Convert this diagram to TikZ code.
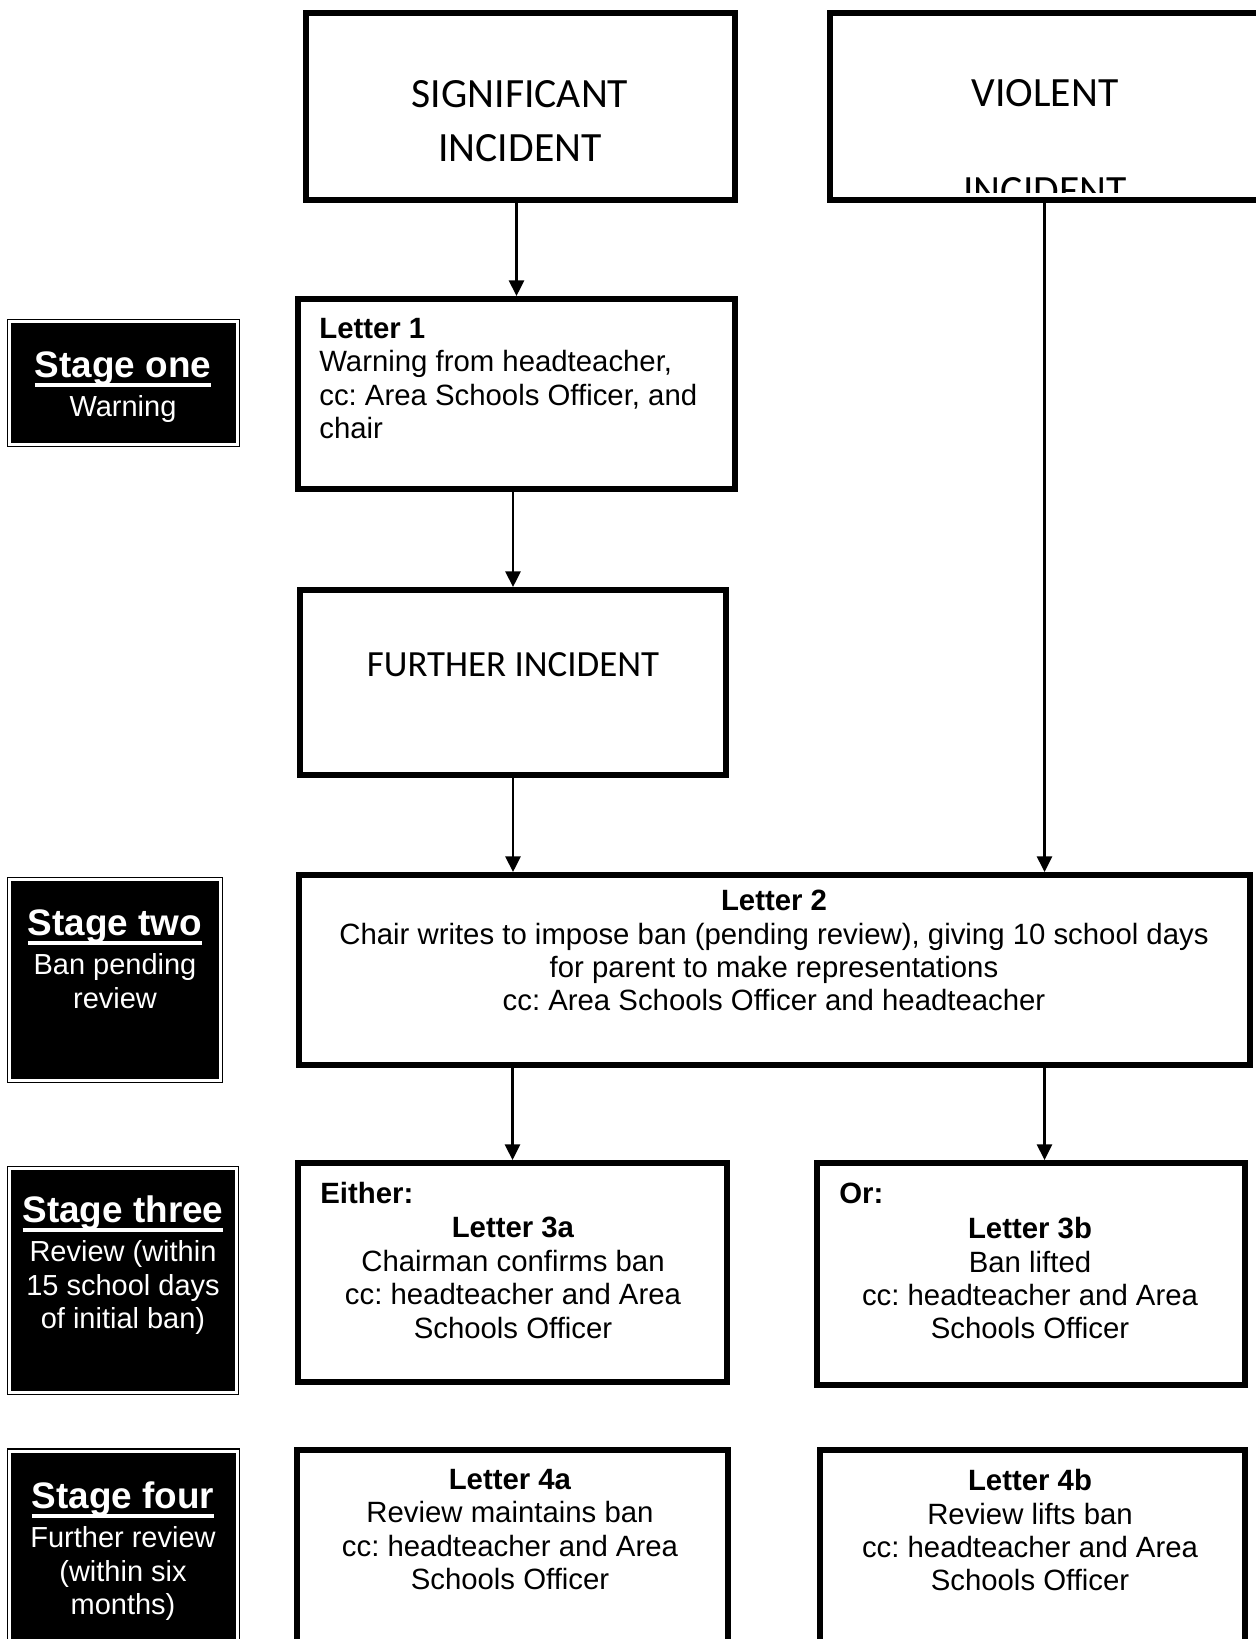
\documentclass[tikz,border=0pt]{standalone}
\usepackage{fontspec}
\setmainfont{Liberation Sans}
\newfontfamily\calib{Carlito}
\usetikzlibrary{arrows.meta}
\frenchspacing

\newcommand{\stagehead}[1]{{\fontsize{21}{24}\selectfont\bfseries\setbox0\hbox{#1}\rlap{\rule[-5.4pt]{\wd0}{1.8pt}}\box0}}

\begin{document}
\begin{tikzpicture}[x=0.02cm,y=-0.02cm]

\tikzset{box/.style={draw,line width=3.3pt,inner sep=0pt}}
\tikzset{stage/.style={draw,fill=black,double=white,double distance=1.7pt,line width=0.7pt,inner sep=0pt}}
\tikzset{txt/.style={inner sep=0pt,font=\fontsize{16.7}{19}\selectfont}}
\tikzset{ctxt/.style={txt,align=center}}
\tikzset{ltxt/.style={txt,align=left}}
\tikzset{stxt/.style={inner sep=0pt,align=center,text=white,font=\fontsize{16.5}{19}\selectfont}}
\tikzset{big/.style={inner sep=0pt,align=center,font=\calib\fontsize{23.7}{30.7}\selectfont}}
\tikzset{toBox/.style={->,>={Triangle[length=9pt,width=8.5pt]},line width=1.6pt}}

\useasboundingbox (0,0) rectangle (1256,1639);
\clip (0,0) rectangle (1256,1639);

% incidents
\node[box,minimum width=8.58cm,minimum height=3.74cm] (sig) at (520.5,106.5) {};
\node[big] (sigt) at (520,121) {SIGNIFICANT\\INCIDENT};
\node[box,minimum width=8.58cm,minimum height=3.74cm] (vio) at (1044.5,106.5) {};
\node[big,anchor=base] (viot) at (1045,107) {VIOLENT};
\begin{scope}
\clip (833,13) rectangle (1256,192);
\node[big,anchor=base] (viob) at (1045,204) {INCIDENT};
\end{scope}

\node[box,minimum width=8.74cm,minimum height=3.8cm] (l1) at (516.5,394) {};
\node[ltxt,anchor=north west] (l1t) at (319,318) {\textbf{Letter 1}\\Warning from headteacher,\\cc: Area Schools Officer, and\\chair};

\node[box,minimum width=8.52cm,minimum height=3.7cm] (fur) at (513,682.5) {};
\node[big,font=\calib\fontsize{21}{26}\selectfont] (furt) at (513,665) {FURTHER INCIDENT};

% letters
\node[box,minimum width=19.02cm,minimum height=3.8cm] (l2) at (774.5,970) {};
\node[ctxt,anchor=north] (l2t) at (774,890) {\textbf{Letter 2}\\Chair writes to impose ban (pending review), giving 10 school days\\for parent to make representations\\cc: Area Schools Officer and headteacher};

\node[box,minimum width=8.58cm,minimum height=4.38cm] (l3a) at (512.5,1272.5) {};
\node[txt,anchor=base west] (eith) at (320,1203) {\textbf{Either:}};
\node[ctxt,anchor=north] (l3at) at (513,1217) {\textbf{Letter 3a}\\Chairman confirms ban\\cc: headteacher and Area\\Schools Officer};

\node[box,minimum width=8.56cm,minimum height=4.44cm] (l3b) at (1031,1274) {};
\node[txt,anchor=base west] (orr) at (839,1203) {\textbf{Or:}};
\node[ctxt,anchor=north] (l3bt) at (1030,1217) {\textbf{Letter 3b}\\Ban lifted\\cc: headteacher and Area\\Schools Officer};

\node[box,minimum width=8.62cm,minimum height=5cm] (l4a) at (512.5,1575) {};
\node[ctxt,anchor=north] (l4at) at (510,1469) {\textbf{Letter 4a}\\Review maintains ban\\cc: headteacher and Area\\Schools Officer};

\node[box,minimum width=8.5cm,minimum height=5cm] (l4b) at (1032.5,1575) {};
\node[ctxt,anchor=north] (l4bt) at (1030,1469) {\textbf{Letter 4b}\\Review lifts ban\\cc: headteacher and Area\\Schools Officer};

% stages
\node[stage,minimum width=4.56cm,minimum height=2.46cm] (s1) at (123.5,383) {};
\node[stxt,anchor=north] (s1t) at (123,351) {\stagehead{Stage one}\\[3.5pt]Warning};
\node[stage,minimum width=4.22cm,minimum height=4.02cm] (s2) at (115,980) {};
\node[stxt,anchor=north] (s2t) at (115,909) {\stagehead{Stage two}\\[3.5pt]Ban pending\\review};
\node[stage,minimum width=4.54cm,minimum height=4.48cm] (s3) at (123,1280.5) {};
\node[stxt,anchor=north] (s3t) at (123,1195) {\stagehead{Stage three}\\[3.5pt]Review (within\\15 school days\\of initial ban)};
\node[stage,minimum width=4.56cm,minimum height=5cm] (s4) at (123.5,1576) {};
\node[stxt,anchor=north] (s4t) at (123,1481) {\stagehead{Stage four}\\[3.5pt]Further review\\(within six\\months)};

% arrows
\draw[toBox] (sig.south -| l1.north) -- (l1.north);
\draw[toBox] (l1.south -| fur.north) -- (fur.north);
\draw[toBox] (fur.south) -- (fur.south |- l2.north);
\draw[toBox] (vio.south) -- (vio.south |- l2.north);
\draw[toBox] (l2.south -| l3a.north) -- (l3a.north);
\draw[toBox] (vio.south |- l2.south) -- (vio.south |- l3b.north);

\end{tikzpicture}
\end{document}
